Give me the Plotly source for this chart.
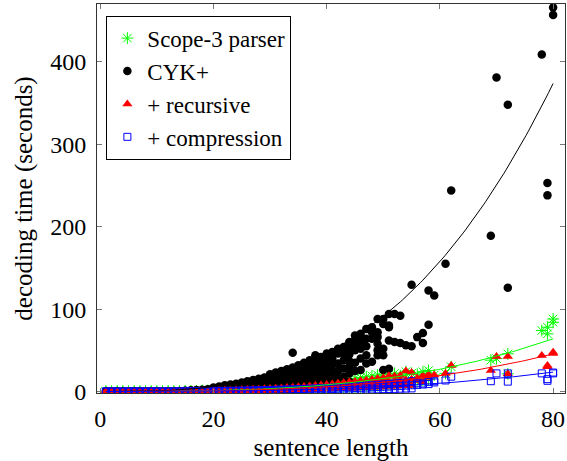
import numpy as np
import plotly.graph_objects as go

# ---------------- data ----------------
# decoding time (seconds) per sentence, keyed by sentence length
scope3 = {
    **{k: [0.0, 0.02] for k in range(1, 11)},
    **{k: [0.05, 0.2] for k in range(11, 16)},
    16: [0.2, 0.5], 17: [0.3, 0.6], 18: [0.3, 0.7, 1.0], 19: [0.4, 0.8, 1.1], 20: [0.4, 1.0, 1.4],
    21: [0.5, 1.2, 1.8], 22: [0.6, 1.3, 2.0], 23: [0.7, 1.5, 2.3], 24: [0.8, 1.7, 2.6],
    25: [0.9, 2.0, 3.0], 26: [1.0, 2.2, 3.3], 27: [1.1, 2.5, 3.7], 28: [1.2, 2.8, 4.1],
    29: [1.4, 3.0, 4.6], 30: [1.5, 3.4, 5.0], 31: [1.7, 3.7, 5.5], 32: [1.8, 4.1, 6.0],
    33: [2.0, 4.5, 6.6], 34: [2.2, 4.9, 7.2], 35: [2.4, 5.4, 7.8], 36: [2.6, 5.8, 8.5],
    37: [2.8, 6.3, 9.2], 38: [3.0, 6.9, 10.0], 39: [3.3, 7.4, 10.8], 40: [3.6, 8.0, 11.5, 13.0],
    41: [3.9, 8.6, 12.3], 42: [4.2, 9.3, 13.0], 43: [4.5, 9.9, 14.0], 44: [4.8, 10.6, 15.0],
    45: [5.0, 11.4, 16.0], 46: [5.5, 12.2, 17.0], 47: [6.0, 13.0, 18.0], 48: [6.5, 13.8, 19.0],
    49: [7.0, 14.7, 20.0], 50: [7.5, 15.6, 21.0], 51: [8.0, 16.6, 22.0], 52: [9.0, 18.0, 22.0],
    53: [10.0, 19.0], 54: [10.0, 21.0, 24.0], 55: [11.0, 22.0], 56: [12.0, 21.0], 57: [14.0, 24.0],
    58: [15.0, 25.5], 59: [20.0], 61: [22.0], 62: [30.0], 69: [38.0], 70: [40.0],
    72: [21.5, 45.7], 78: [74.0], 79: [70.0, 78.0], 80: [84.0, 88.0],
}

cyk = {
    **{k: [0.0, 0.05] for k in range(1, 13)},
    13: [0.1, 0.4], 14: [0.1, 0.5], 15: [0.2, 0.6, 1.0], 16: [0.2, 0.8, 1.4], 17: [0.3, 1.0, 1.8],
    18: [0.3, 1.0, 2.0], 19: [0.5, 1.5, 2.8], 20: [0.5, 2.0, 3.5, 5.0],
    21: [0.5, 2.0, 4.0, 6.0], 22: [0.5, 2.0, 4.0, 6.0, 7.5], 23: [1.0, 3.0, 5.0, 6.5, 8.5],
    24: [1.0, 3.0, 5.0, 7.0, 9.5], 25: [1.0, 3.0, 5.5, 8.0, 11.0], 26: [1.0, 3.5, 6.0, 9.0, 12.5],
    27: [1.0, 4.0, 7.0, 10.0, 14.0], 28: [1.0, 4.0, 7.0, 10.0, 13.0, 15.5],
    29: [1.5, 4.5, 8.0, 11.0, 14.0, 17.0],
    30: [2.0, 6.0, 10.0, 14.0, 18.0, 21.0], 31: [2.0, 7.0, 11.0, 15.0, 19.0, 23.0],
    32: [3.0, 7.0, 12.0, 16.0, 20.0, 25.0], 33: [3.0, 8.0, 13.0, 18.0, 22.0, 27.0],
    34: [3.0, 8.0, 14.0, 19.0, 24.0, 29.0, 47.0], 35: [4.0, 9.0, 15.0, 21.0, 27.0, 32.0],
    36: [4.0, 10.0, 16.0, 22.0, 29.0, 35.0], 37: [4.0, 10.0, 17.0, 24.0, 31.0, 38.0],
    38: [5.0, 11.0, 18.0, 26.0, 33.0, 40.0, 44.0], 39: [5.0, 12.0, 20.0, 28.0, 35.0, 42.0],
    40: [6.0, 13.0, 21.0, 29.0, 34.0, 42.0, 46.0], 41: [6.0, 14.0, 23.0, 32.0, 40.0, 48.0],
    42: [7.0, 16.0, 25.0, 34.0, 46.0, 52.0], 43: [8.0, 18.0, 28.0, 38.0, 46.0, 54.0],
    44: [12.0, 22.0, 30.0, 37.0, 45.0, 52.0, 60.0], 45: [25.0, 35.0, 50.0, 56.0, 62.0, 68.0],
    46: [26.0, 40.0, 52.0, 58.0, 64.0, 70.0], 47: [34.0, 44.0, 55.0, 64.0, 76.0],
    48: [36.0, 64.0, 72.0, 78.0], 49: [44.0, 50.0, 58.0, 66.0, 72.0, 88.0],
    50: [26.0, 44.0, 52.0, 82.0, 88.0], 51: [27.5, 62.0, 78.0, 80.0, 94.0],
    52: [60.0, 94.0], 53: [59.0, 92.0], 54: [56.0], 55: [55.0, 129.5], 56: [66.0],
    57: [59.0, 71.0], 58: [81.0, 122.6], 59: [116.5], 61: [155.0], 62: [244.0],
    69: [189.0], 70: [381.0], 72: [126.0, 348.0], 78: [409.0], 79: [238.0, 253.0],
    80: [457.0, 466.0],
}

recursive = {
    **{k: [0.0, 0.02] for k in range(1, 13)},
    **{k: [0.05, 0.2] for k in range(13, 18)},
    18: [0.2, 0.5], 19: [0.2, 0.6], 20: [0.3, 0.7, 1.0],
    21: [0.4, 0.8, 1.2], 22: [0.5, 0.95, 1.4], 23: [0.5, 1.1, 1.6], 24: [0.6, 1.2, 1.8],
    25: [0.7, 1.4, 2.1], 26: [0.8, 1.6, 2.3], 27: [0.9, 1.75, 2.6], 28: [1.0, 2.0, 2.9],
    29: [1.1, 2.2, 3.3], 30: [1.2, 2.4, 3.6], 31: [1.3, 2.65, 4.0], 32: [1.5, 2.9, 4.4],
    33: [1.6, 3.2, 4.8], 34: [1.8, 3.5, 5.3], 35: [1.9, 3.8, 5.7], 36: [2.1, 4.2, 6.2],
    37: [2.3, 4.5, 6.8], 38: [2.5, 4.9, 7.3], 39: [2.7, 5.3, 8.0], 40: [2.9, 5.7, 8.6],
    41: [3.0, 6.1, 9.2], 42: [3.3, 6.6, 9.9], 43: [3.6, 7.1, 10.6], 44: [3.8, 7.6, 11.4],
    45: [4.0, 8.1, 12.2], 46: [4.4, 8.7, 13.0], 47: [4.6, 9.2, 13.8], 48: [4.9, 9.8, 14.7],
    49: [5.2, 10.5, 15.7], 50: [5.5, 11.1, 16.6], 51: [6.0, 12.0, 19.0], 52: [6.3, 12.5, 18.5],
    53: [6.7, 13.3, 19.5], 54: [7.0, 14.0, 25.0], 55: [7.4, 14.8, 23.0], 56: [13.4, 16.0],
    57: [12.0, 19.4], 58: [17.0, 20.6], 59: [20.0], 61: [22.0], 62: [31.5],
    69: [25.5], 70: [42.5], 72: [21.5, 42.5], 78: [43.7], 79: [30.0, 31.5], 80: [46.0, 47.7],
}

compression = {
    **{k: [0.0, 0.02] for k in range(1, 15)},
    **{k: [0.05, 0.15] for k in range(15, 21)},
    21: [0.2, 0.45, 0.7], 22: [0.25, 0.5, 0.75], 23: [0.3, 0.55, 0.85], 24: [0.3, 0.65, 1.0],
    25: [0.35, 0.7, 1.1], 26: [0.4, 0.8, 1.2], 27: [0.45, 0.9, 1.35], 28: [0.5, 1.0, 1.5],
    29: [0.55, 1.1, 1.7], 30: [0.6, 1.25, 1.9], 31: [0.7, 1.4, 2.1], 32: [0.75, 1.5, 2.3],
    33: [0.8, 1.65, 2.5], 34: [0.9, 1.8, 2.7], 35: [1.0, 2.0, 3.0], 36: [1.1, 2.15, 3.2],
    37: [1.2, 2.3, 3.5], 38: [1.25, 2.5, 3.8], 39: [1.35, 2.7, 4.1], 40: [1.5, 2.9, 4.4],
    41: [1.6, 3.2, 4.8], 42: [1.7, 3.4, 5.1], 43: [1.8, 3.7, 5.5], 44: [2.0, 3.9, 5.9],
    45: [2.1, 4.2, 6.3], 46: [2.2, 4.5, 6.7], 47: [2.4, 4.8, 7.2], 48: [2.5, 5.1, 7.6],
    49: [2.7, 5.4, 8.1], 50: [2.9, 5.75, 8.6], 51: [3.1, 6.1, 9.2], 52: [3.2, 6.5, 9.7],
    53: [3.4, 6.8, 10.3], 54: [3.6, 7.2, 10.8], 55: [3.8, 7.6, 12.5], 56: [8.0, 10.0],
    57: [8.5, 9.7], 58: [9.0, 11.7], 59: [11.0, 12.5], 61: [13.4], 62: [18.0],
    69: [12.5], 70: [22.0], 72: [12.0, 22.0], 78: [22.0], 79: [13.0, 15.0], 80: [22.0, 23.0],
}

# cubic fit coefficients a in  t = a * length^3
fit_coef = {"scope3": 1.25e-4, "cyk": 7.3e-4, "recursive": 8.9e-5, "compression": 4.6e-5}

x_ticks = [0, 20, 40, 60, 80]
y_ticks = [0, 100, 200, 300, 400]

# ---------------- helpers ----------------
def flatten(d):
    xs, ys = [], []
    for k, vals in d.items():
        for v in vals:
            xs.append(k)
            ys.append(v)
    return xs, ys

FONT = "Liberation Serif, Times New Roman, serif"
GREEN, BLACK, RED, BLUE = "rgb(0,255,0)", "black", "rgb(255,0,0)", "rgb(0,0,255)"

fig = go.Figure()

series = [
    ("Scope-3 parser", scope3, dict(symbol="asterisk-open", size=10, color=GREEN, line=dict(color=GREEN, width=1))),
    ("CYK+", cyk, dict(symbol="circle", size=8.5, color=BLACK, line=dict(width=0))),
    ("+ recursive", recursive, dict(symbol="triangle-up", size=9, color=RED, line=dict(width=0))),
    ("+ compression", compression, dict(symbol="square-open", size=7, color=BLUE, line=dict(color=BLUE, width=1))),
]
for name, d, mk in series:
    xs, ys = flatten(d)
    fig.add_trace(go.Scatter(x=xs, y=ys, mode="markers", name=name, marker=mk))

xf = np.linspace(1, 80, 200)
for key, col in [("scope3", GREEN), ("cyk", BLACK), ("recursive", RED), ("compression", BLUE)]:
    fig.add_trace(go.Scatter(x=xf, y=fit_coef[key] * xf ** 3, mode="lines",
                             line=dict(color=col, width=1), showlegend=False, hoverinfo="skip"))

axis_common = dict(
    showgrid=False, zeroline=False, showline=True, linecolor="#333", linewidth=1,
    mirror="ticks", ticks="inside", ticklen=5, tickcolor="#777", tickwidth=1,
    tickfont=dict(family=FONT, size=24, color="black"), automargin=False,
)
fig.update_xaxes(range=[-0.57, 82.1], tickvals=x_ticks, ticklabelstandoff=4,
                 title=dict(text="sentence length", font=dict(family=FONT, size=25, color="black"), standoff=8),
                 **axis_common)
fig.update_yaxes(range=[-1.8, 470.2], tickvals=y_ticks, ticklabelstandoff=5,
                 title=dict(text="decoding time (seconds)", font=dict(family=FONT, size=25, color="black"), standoff=10),
                 **axis_common)

fig.update_layout(
    width=567, height=461,
    margin=dict(l=97, r=2, t=4, b=68),
    paper_bgcolor="white", plot_bgcolor="white",
    font=dict(family=FONT, size=24, color="black"),
    legend=dict(x=0.02, y=0.97, xanchor="left", yanchor="top",
                bordercolor="black", borderwidth=1, bgcolor="white",
                font=dict(family=FONT, size=23, color="black"),
                itemwidth=30, tracegroupgap=0),
    showlegend=True,
)

fig.write_html("out.html", config={"displayModeBar": False},
               post_script="document.body.style.margin='0';document.body.style.overflow='hidden';")
